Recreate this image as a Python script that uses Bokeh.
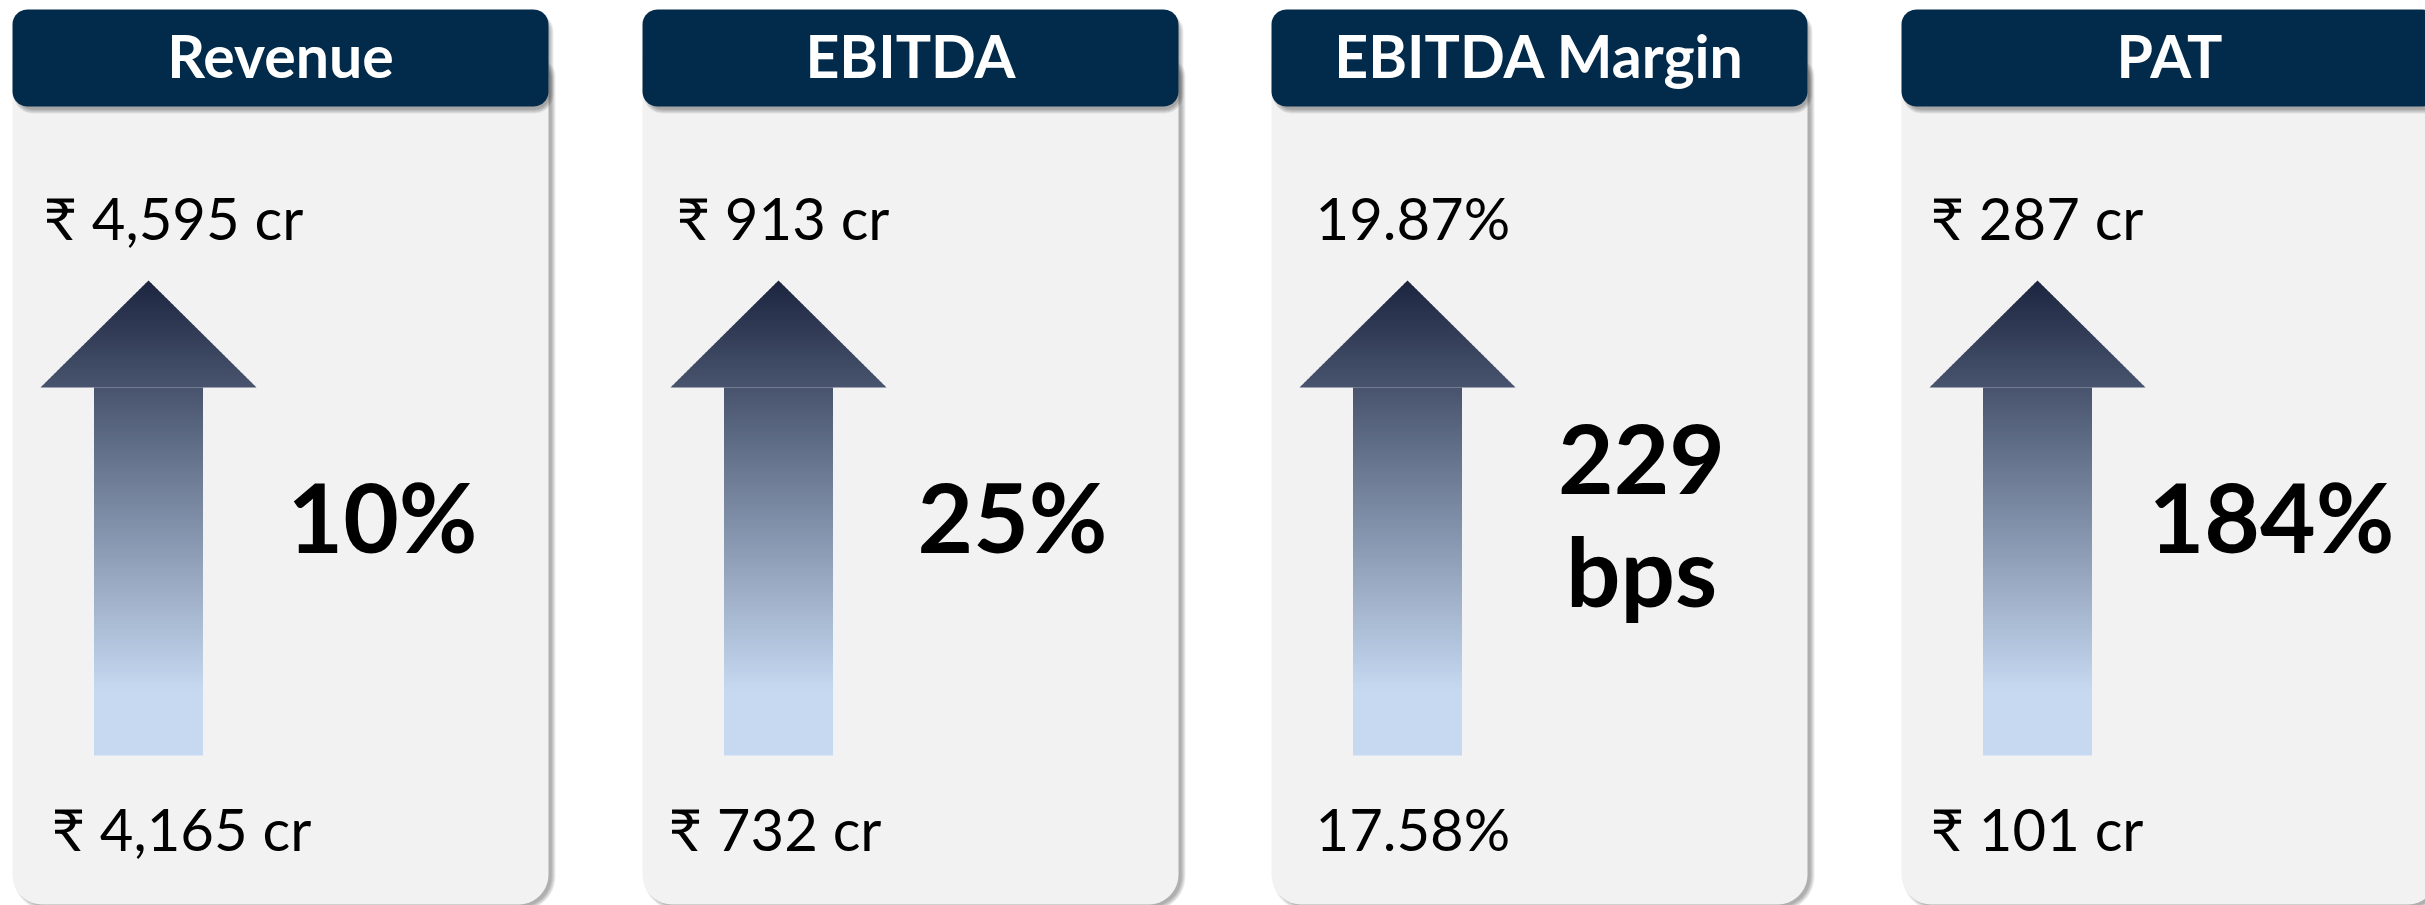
import math
from bokeh.plotting import figure
from bokeh.models import Range1d, ColumnDataSource
from bokeh.embed import file_html
from bokeh.resources import INLINE
from bokeh.core.properties import value

# ---------------- data ----------------
metrics = ["Revenue", "EBITDA", "EBITDA Margin", "PAT"]
prior_values = ["₹ 4,165 cr", "₹ 732 cr", "17.58%", "₹ 101 cr"]
current_values = ["₹ 4,595 cr", "₹ 913 cr", "19.87%", "₹ 287 cr"]
growth_values = ["10%", "25%", "229", "184%"]
growth_units = ["", "", "bps", ""]

# ---------------- layout (page pixel coordinates) ----------------
W, H = 2425, 905
panel_left = [12, 642, 1271, 1901]
panel_w = 536
top_text_dx = [31, 34, 44, 29]
bot_text_dx = [39, 26, 44, 29]

FONT = "Lato"
HEADER_COL = "#022a4a"
BODY_COL = "#f2f2f2"
TOP_C = (28, 37, 64)
BOT_C = (198, 217, 241)
BASE_FIX = 0.41  # em offset between requested and rendered baseline

p = figure(width=W, height=H, x_range=Range1d(0, W), y_range=Range1d(H, 0),
           output_backend="svg", toolbar_location=None, min_border=0,
           x_axis_type=None, y_axis_type=None)
p.grid.visible = False
p.outline_line_color = None
p.background_fill_color = "white"
p.border_fill_color = "white"


def rrect(x0, y0, x1, y1, rt, rb, n=12):
    xs, ys = [], []

    def arc(cx, cy, r, a0, a1):
        for i in range(n + 1):
            a = math.radians(a0 + (a1 - a0) * i / n)
            xs.append(cx + r * math.cos(a))
            ys.append(cy + r * math.sin(a))

    arc(x0 + rt, y0 + rt, rt, 180, 270)
    arc(x1 - rt, y0 + rt, rt, 270, 360)
    arc(x1 - rb, y1 - rb, rb, 0, 90)
    arc(x0 + rb, y1 - rb, rb, 90, 180)
    return xs, ys


HEAD_T, HEAD_B = 9, 106
BODY_T, BODY_B = 60, 904

# body shadows
sx, sy = [], []
for x0 in panel_left:
    x1 = x0 + panel_w
    for k in range(5):
        xs, ys = rrect(x0 + 5 - k, BODY_T + 4 - k, x1 + 3 + k, BODY_B + 2 + k, 15, 30 + k)
        sx.append(xs); sy.append(ys)
p.patches(sx, sy, fill_color="black", fill_alpha=0.07, line_color=None)

# bodies
bx, by = [], []
for x0 in panel_left:
    xs, ys = rrect(x0, BODY_T, x0 + panel_w, BODY_B, 0, 30)
    bx.append(xs); by.append(ys)
p.patches(bx, by, fill_color=BODY_COL, line_color=None)

# header shadows
hx, hy = [], []
for x0 in panel_left:
    x1 = x0 + panel_w
    for k in range(5):
        xs, ys = rrect(x0 + 5 - k, HEAD_T + 7 - k, x1 + 1 + k, HEAD_B + 3 + k, 15 + k, 15 + k)
        hx.append(xs); hy.append(ys)
p.patches(hx, hy, fill_color="black", fill_alpha=0.07, line_color=None)

# headers
hx, hy = [], []
for x0 in panel_left:
    xs, ys = rrect(x0, HEAD_T, x0 + panel_w, HEAD_B, 15, 15)
    hx.append(xs); hy.append(ys)
p.patches(hx, hy, fill_color=HEADER_COL, line_color=None)

# gradient arrows
APEX_Y, HEADBASE_Y, SHAFT_B = 280, 387, 755
HEAD_HW, SHAFT_HW = 108, 54.5
GRAD_END = 690


def grad_color(y):
    t = min(1.0, max(0.0, (y - APEX_Y) / (GRAD_END - APEX_Y)))
    c = [round(a + (b - a) * t) for a, b in zip(TOP_C, BOT_C)]
    return "#%02x%02x%02x" % tuple(c)


def head_hw(y):
    return HEAD_HW * (y - APEX_Y) / (HEADBASE_Y - APEX_Y)


ax, ay, ac = [], [], []
step = 3.0
for x0 in panel_left:
    cx = x0 + 136
    y = APEX_Y
    while y < SHAFT_B - 1e-6:
        if y < HEADBASE_Y:
            yb = min(y + step, HEADBASE_Y)
            yb2 = min(yb + 0.7, HEADBASE_Y)
            w0, w1 = head_hw(y), head_hw(yb2)
            xs = [cx - w0, cx + w0, cx + w1, cx - w1]
        else:
            yb = min(y + step, SHAFT_B)
            yb2 = min(yb + 0.7, SHAFT_B)
            xs = [cx - SHAFT_HW, cx + SHAFT_HW, cx + SHAFT_HW, cx - SHAFT_HW]
        ax.append(xs); ay.append([y, y, yb2, yb2]); ac.append(grad_color((y + yb) / 2))
        y = yb
src = ColumnDataSource(dict(xs=ax, ys=ay, c=ac))
p.patches("xs", "ys", source=src, fill_color="c", line_color=None)


def by_(baseline, size):
    return baseline - BASE_FIX * size


# header labels
HS = 59
p.text(x=[x0 + panel_w / 2 for x0 in panel_left], y=[by_(79, HS)] * 4, text=metrics,
       text_font=value(FONT), text_font_style="bold", text_font_size=f"{HS}px",
       text_color="white", text_align="center", text_baseline="alphabetic")

# current (top) values
VS = 58
p.text(x=[x0 + d for x0, d in zip(panel_left, top_text_dx)], y=[by_(241, VS)] * 4,
       text=current_values, text_font=value(FONT), text_font_size=f"{VS}px",
       text_color="black", text_align="left", text_baseline="alphabetic")

# prior (bottom) values
p.text(x=[x0 + d for x0, d in zip(panel_left, bot_text_dx)], y=[by_(852, VS)] * 4,
       text=prior_values, text_font=value(FONT), text_font_size=f"{VS}px",
       text_color="black", text_align="left", text_baseline="alphabetic")

# growth labels
GS = 96
gx, gy, gt = [], [], []
for x0, g, u in zip(panel_left, growth_values, growth_units):
    cx = x0 + 370
    if u:
        gx += [cx, cx]; gy += [by_(498, GS), by_(608, GS)]; gt += [g, u]
    else:
        gx.append(cx); gy.append(by_(554, GS)); gt.append(g)
p.text(x=gx, y=gy, text=gt, text_font=value(FONT), text_font_style="bold",
       text_font_size=f"{GS}px", text_color="black", text_align="center",
       text_baseline="alphabetic")

open("out.html", "w").write(file_html(p, INLINE))
